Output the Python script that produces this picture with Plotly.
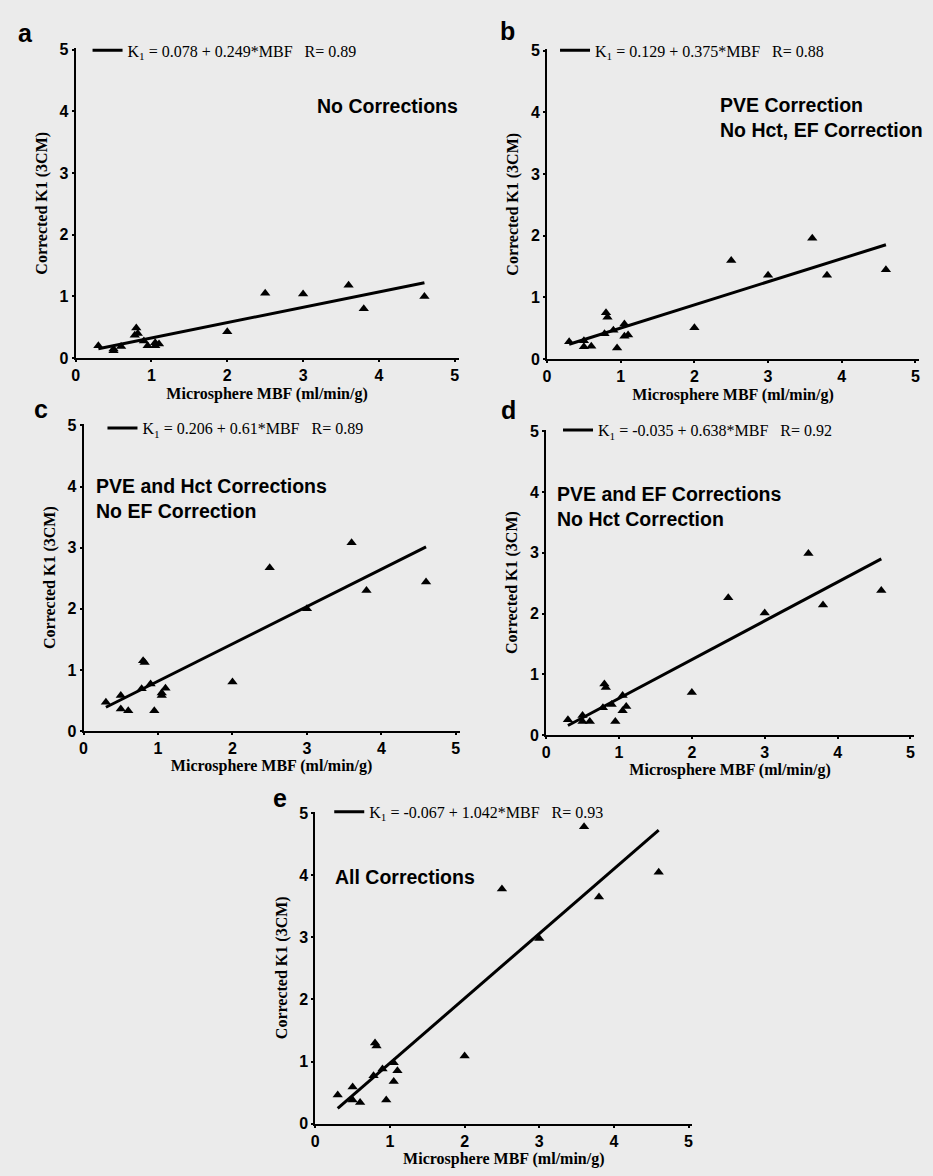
import plotly.graph_objects as go

# Shared microsphere MBF values (ml/min/g)
mbf = [0.3, 0.5, 0.5, 0.6, 0.8, 0.82, 0.78, 0.9, 0.95, 1.05, 1.05, 1.1, 2.0, 2.5, 3.0, 3.6, 3.8, 4.6]

# Corrected K1 (3CM) per panel
k1_a = [0.20, 0.15, 0.12, 0.19, 0.49, 0.40, 0.37, 0.28, 0.20, 0.25, 0.20, 0.23, 0.43, 1.05, 1.04, 1.18, 0.80, 1.00]
k1_b = [0.28, 0.30, 0.20, 0.21, 0.75, 0.68, 0.41, 0.47, 0.18, 0.57, 0.37, 0.39, 0.51, 1.60, 1.36, 1.96, 1.36, 1.45]
k1_c = [0.47, 0.58, 0.36, 0.33, 1.15, 1.12, 0.69, 0.77, 0.33, 0.62, 0.58, 0.70, 0.80, 2.67, 2.00, 3.08, 2.30, 2.44]
k1_d = [0.25, 0.32, 0.22, 0.22, 0.84, 0.78, 0.45, 0.50, 0.22, 0.65, 0.40, 0.47, 0.70, 2.26, 2.01, 2.99, 2.14, 2.38]
k1_e = [0.46, 0.59, 0.38, 0.34, 1.30, 1.25, 0.77, 0.88, 0.38, 0.98, 0.68, 0.85, 1.09, 3.78, 2.98, 4.78, 3.65, 4.05]

# Regression coefficients and correlation
intercepts = [0.078, 0.129, 0.206, -0.035, -0.067]
slopes = [0.249, 0.375, 0.61, 0.638, 1.042]
r_values = ["0.89", "0.88", "0.89", "0.92", "0.93"]
fit_range = [0.3, 4.6]

panel_letters = ["a", "b", "c", "d", "e"]
panel_notes = [
    "No Corrections",
    "PVE Correction<br>No Hct, EF Correction",
    "PVE and Hct Corrections<br>No EF Correction",
    "PVE and EF Corrections<br>No Hct Correction",
    "All Corrections",
]
x_ticks = [0, 1, 2, 3, 4, 5]
y_ticks = [0, 1, 2, 3, 4, 5]
x_title = "Microsphere MBF (ml/min/g)"
y_title = "Corrected K1 (3CM)"

W, H = 933, 1176

# pixel boxes for each panel: (x0, x1, ytop, ybottom)
boxes = [
    (72, 457, 42, 356),
    (546, 920, 43, 357),
    (80, 458, 423, 734),
    (545, 915, 429, 738),
    (313, 692, 816, 1132),
]
legend_pos = [(84, 44), (554, 44), (99, 427), (557, 429), (327, 816)]
letter_pos = [(22, 26), (506, 24), (37, 408), (507, 409), (277, 802)]
note_pos = [
    (458, 100, "right", "right"),
    (718, 112, "left", "left"),
    (90, 498, "left", "left"),
    (554, 506, "left", "left"),
    (331, 882, "left", "left"),
]

def px(x):
    return x / W

def py(y):
    return 1 - y / H

fig = go.Figure()
ys = [k1_a, k1_b, k1_c, k1_d, k1_e]
serif = "Liberation Serif"
sans = "Liberation Sans"

for i in range(5):
    xa = "x" if i == 0 else f"x{i+1}"
    ya = "y" if i == 0 else f"y{i+1}"
    lg = "legend" if i == 0 else f"legend{i+1}"
    fig.add_trace(go.Scatter(
        x=mbf, y=ys[i], mode="markers", xaxis=xa, yaxis=ya,
        marker=dict(symbol="triangle-up", size=9, color="black"),
        showlegend=False,
    ))
    fx = fit_range
    fy = [intercepts[i] + slopes[i] * v for v in fx]
    name = f"K<sub>1</sub> = {intercepts[i]:g} + {slopes[i]:g}*MBF   R= {r_values[i]}"
    fig.add_trace(go.Scatter(
        x=fx, y=fy, mode="lines", xaxis=xa, yaxis=ya,
        line=dict(color="black", width=3), name=name,
        showlegend=True, legend=lg,
    ))
    x0, x1, yt, yb = boxes[i]
    axkw = dict(
        range=[0, 5.05], tickvals=x_ticks, showgrid=False, zeroline=False,
        showline=True, linecolor="black", linewidth=2, ticks="outside",
        ticklen=2, tickwidth=2, tickcolor="black",
        tickfont=dict(family=sans, size=16, color="black", weight="bold"),
    )
    fig.layout[("xaxis" if i == 0 else f"xaxis{i+1}")] = dict(
        axkw, domain=[px(x0), px(x1)], anchor=ya,
        title=dict(text=x_title, font=dict(family=serif, size=16, color="black", weight="bold"), standoff=4),
    )
    fig.layout[("yaxis" if i == 0 else f"yaxis{i+1}")] = dict(
        axkw, range=[0, 5.02], tickvals=y_ticks, domain=[py(yb), py(yt)], anchor=xa,
        title=dict(text=y_title, font=dict(family=serif, size=16, color="black", weight="bold"), standoff=8),
    )
    lx, ly = legend_pos[i]
    fig.layout[lg] = dict(
        x=px(lx), y=py(ly), xanchor="left", yanchor="middle",
        bgcolor="rgba(0,0,0,0)", itemwidth=30,
        font=dict(family=serif, size=16, color="black"),
    )
    lx2, ly2 = letter_pos[i]
    fig.add_annotation(
        x=px(lx2), y=py(ly2), xref="paper", yref="paper", text=f"<b>{panel_letters[i]}</b>",
        showarrow=False, font=dict(family=sans, size=25, color="black"),
        xanchor="center", yanchor="middle",
    )
    nx, ny, xanc, al = note_pos[i]
    fig.add_annotation(
        x=px(nx), y=py(ny), xref="paper", yref="paper", text=f"<b>{panel_notes[i]}</b>",
        showarrow=False, font=dict(family=sans, size=19.5, color="black"),
        xanchor=xanc, yanchor="middle", align=al,
    )

fig.update_layout(
    width=W, height=H, margin=dict(l=0, r=0, t=0, b=0),
    paper_bgcolor="#ebebeb", plot_bgcolor="rgba(0,0,0,0)",
)

fig.write_html("out.html")
